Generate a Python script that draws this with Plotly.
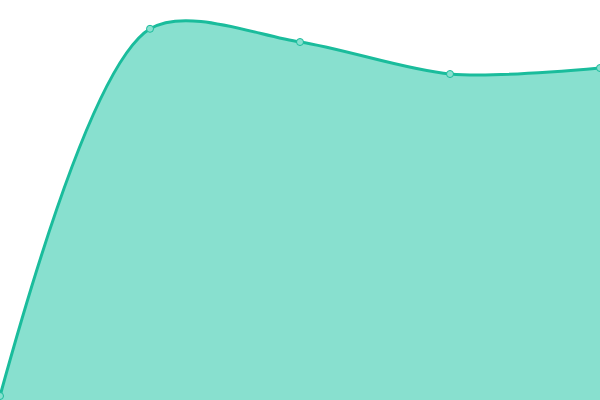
import plotly.graph_objects as go

x_vals = [0, 1, 2, 3, 4]
y_vals = [1, 92.8, 89.5, 81.5, 83]

fig = go.Figure()
fig.add_trace(go.Scatter(x=x_vals, y=y_vals,
                         mode="lines+markers",
                         line=dict(color="#1abc9c", width=3, shape="spline", smoothing=0.85),
                         marker=dict(size=7, color="#88e0cf",
                                     line=dict(color="#1abc9c", width=1)),
                         fill="tozeroy", fillcolor="#88e0cf",
                         cliponaxis=False))
fig.update_layout(width=600, height=400,
                  margin=dict(l=0, r=0, t=0, b=0),
                  paper_bgcolor="white", plot_bgcolor="white",
                  showlegend=False,
                  xaxis=dict(visible=False, range=[0, 4]),
                  yaxis=dict(visible=False, range=[0, 100]))
# drop the default body margin so the chart sits flush in the window
fig.write_html("out.html", config={"displayModeBar": False},
               post_script="document.body.style.margin='0';document.body.style.overflow='hidden';")
